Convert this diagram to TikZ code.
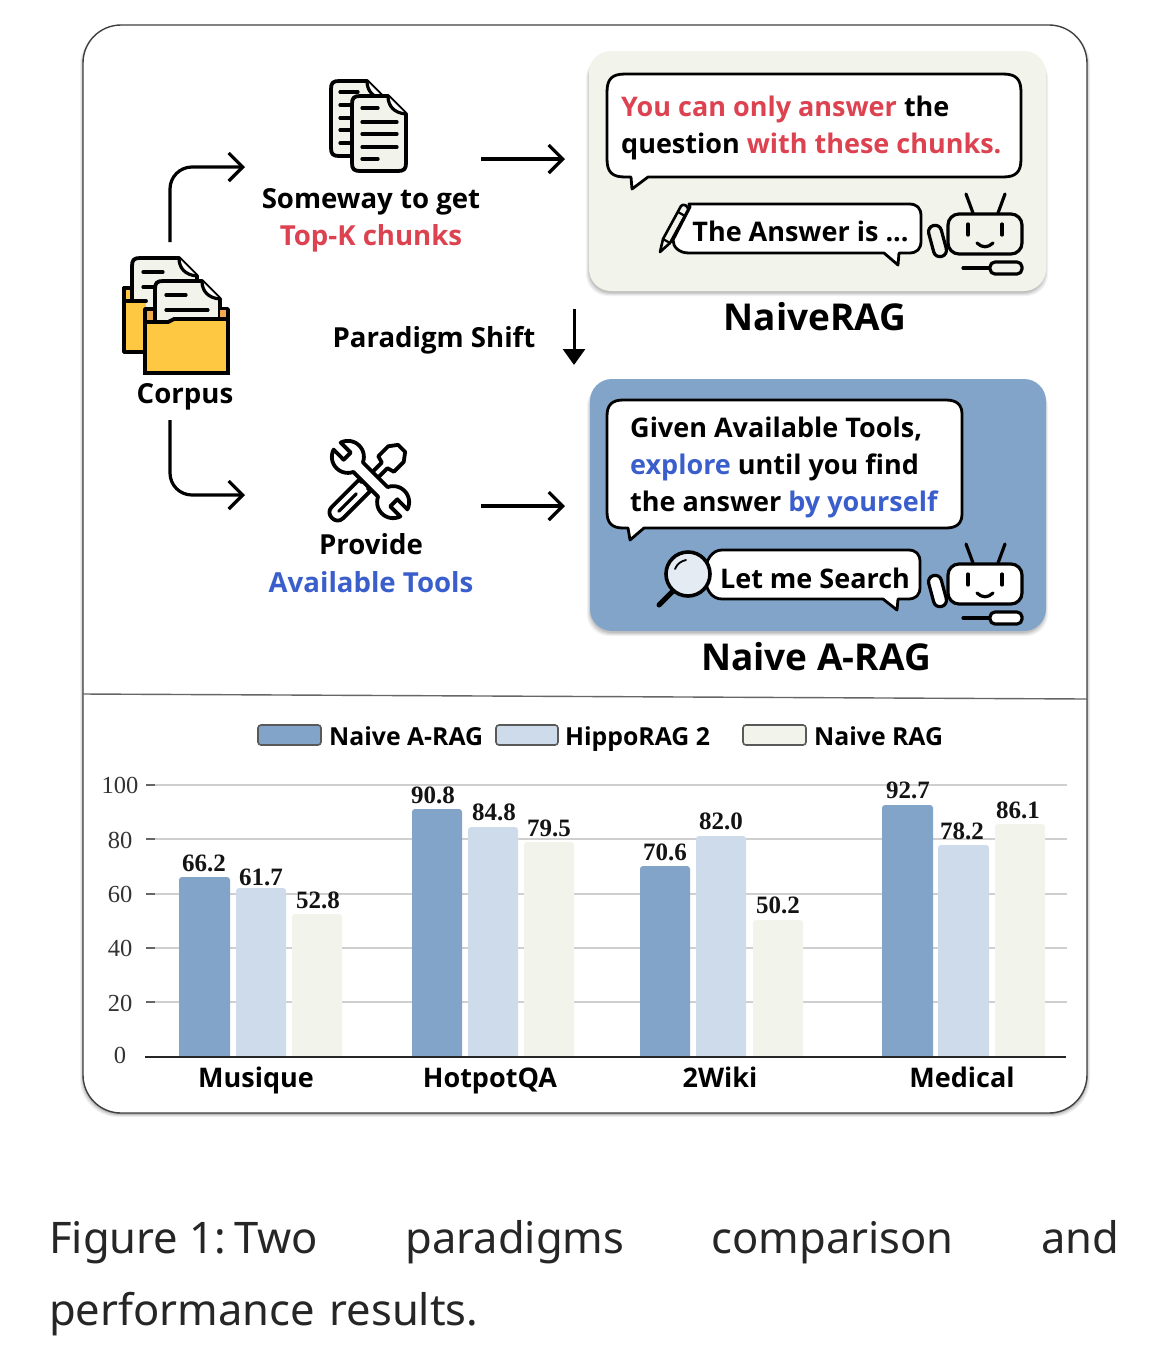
\documentclass[tikz,border=0pt]{standalone}
\usepackage{fontspec}
\setmainfont{Open Sans}
\newfontfamily\capfont{Noto Sans}
\newfontfamily\serifnum{Liberation Serif}
\usetikzlibrary{arrows.meta}
\definecolor{beigeC}{HTML}{F2F3EA}
\definecolor{blueC}{HTML}{82A4C8}
\definecolor{paleC}{HTML}{CDDBEA}
\definecolor{redC}{HTML}{DC4250}
\definecolor{bluetxt}{HTML}{3A5FCC}
\definecolor{gridC}{HTML}{CFCFD2}
\definecolor{folderC}{HTML}{FFC842}
\definecolor{tabC}{HTML}{F2A94E}
\newcommand{\fs}[2]{\fontsize{#1}{#2}\selectfont}
\tikzset{
  x=1pt,y=-1pt,
  lab/.style={font=\bfseries\fs{27}{37},text=black,inner sep=0pt},
  sidelab/.style={font=\bfseries\fs{27.6}{37},text=black,inner sep=0pt},
  big/.style={font=\bfseries\fs{37}{42},text=black,inner sep=0pt},
  leg/.style={font=\bfseries\fs{24.8}{30},text=black,inner sep=0pt,anchor=base west},
  bub/.style={draw=black,line width=2.8pt,fill=white,line join=round},
  icon/.style={draw=black,line width=3.8pt,line join=round,line cap=round},
  thin icon/.style={draw=black,line width=3.2pt,line join=round,line cap=round},
  conn/.style={draw=black,line width=3.2pt,-{Straight Barb[length=14pt,width=28pt,line width=3.2pt]}},
  val/.style={font=\serifnum\bfseries\fs{25}{25},text=black!92,inner sep=0pt},
  tick/.style={font=\serifnum\fs{24.5}{24},text=black!80,inner sep=0pt},
  legbox/.style={draw=black!65,line width=1.6pt,rounded corners=3pt},
}
\newcommand{\robot}[1]{%
  \draw[thin icon] (966,194) -- (973,213);
  \draw[thin icon] (1005,194) -- (998,213);
  \draw[thin icon,fill=#1,rounded corners=11pt] (948,214) rectangle (1022,254);
  \draw[thin icon] (968,224) -- (968,235);
  \draw[thin icon] (1002,224) -- (1002,235);
  \draw[thin icon] (977,243) .. controls (982,248) and (988,248) .. (993,243);
  \draw[thin icon,fill=#1,rounded corners=6.4pt,rotate around={15:(937.5,241)}] (931,225) rectangle (944,257);
  \draw[thin icon] (963,268) -- (990,268);
  \draw[thin icon,fill=#1,rounded corners=5pt] (990,262) rectangle (1022,274);
}
\newcommand{\paper}[5]{%
  \draw[icon,fill=#5] (#1+8,#2) -- (#3-18,#2) -- (#3,#2+18) -- (#3,#4-8)
    .. controls (#3,#4-2) and (#3-2,#4) .. (#3-8,#4) -- (#1+8,#4)
    .. controls (#1+2,#4) and (#1,#4-2) .. (#1,#4-8) -- (#1,#2+8)
    .. controls (#1,#2+2) and (#1+2,#2) .. (#1+8,#2) -- cycle;
  \draw[thin icon,fill=white] (#3-18,#2) .. controls (#3-18,#2+10) and (#3-12,#2+17) .. (#3,#2+18);
}
\begin{document}
\begin{tikzpicture}
\useasboundingbox (0,0) rectangle (1170,1369);
\fill[white] (0,0) rectangle (1170,1369);

% frame
\foreach \d/\o in {4/0.06,3/0.08,2/0.12,1/0.16}
  \fill[black,opacity=\o,rounded corners=38pt] (84-\d,27) rectangle (1086+\d,1113+\d);
\draw[draw=black!75,line width=1.4pt,fill=white,rounded corners=38pt] (83,25) rectangle (1087,1113);
\draw[draw=black!60,line width=1.4pt] (83,694) -- (1087,699);

% panels
\foreach \d/\o in {4/0.05,3/0.06,2/0.07,1/0.08}{
  \fill[black,opacity=\o,rounded corners=22pt] (590-\d,56) rectangle (1044+\d,292+\d);
  \fill[black,opacity=\o,rounded corners=22pt] (591-\d,384) rectangle (1044+\d,632+\d);
}
\node[draw=none,fill=beigeC,rounded corners=22pt,minimum width=457pt,minimum height=240pt,inner sep=0pt] (panelA) at (817.5,171) {};
\node[draw=none,fill=blueC,rounded corners=22pt,minimum width=456pt,minimum height=252pt,inner sep=0pt] (panelB) at (818,505) {};

% bubbles, NaiveRAG
\draw[bub,rounded corners=0pt] (607+18,74)
  -- (1021-18,74) .. controls (1016,74) and (1021,79) .. (1021,92)
  -- (1021,159) .. controls (1021,172) and (1016,177) .. (1003,177)
  -- (648,177) -- (632,189) -- (631,177) -- (625,177)
  .. controls (612,177) and (607,172) .. (607,159)
  -- (607,92) .. controls (607,79) and (612,74) .. (625,74) -- cycle;
\node[lab,anchor=west,align=left] (q1) at (621,127.5) {\textcolor{redC}{You can only answer} the\\question \textcolor{redC}{with these chunks.}};
\draw[bub] (689,204) -- (909,204) .. controls (917,204) and (921,208) .. (921,216)
  -- (921,241) .. controls (921,249) and (917,253) .. (909,253)
  -- (899,253) -- (898,265) -- (884,253) -- (689,253)
  .. controls (679,253) and (673,247) .. (673,240) -- (690,207) -- cycle;
\node[lab,anchor=center] (a1) at (800.5,231) {The Answer is ...};
% pencil
\draw[draw=black,line width=2.6pt,line join=round,fill=beigeC] (660,252) -- (663,239) -- (681,206) .. controls (683,203) and (689,206) .. (688,210) -- (670,243) -- cycle;
\draw[draw=black,line width=2.2pt] (663,239) -- (670,243);
\draw[draw=black,line width=2.2pt] (678,212) -- (685,216);
\robot{beigeC}

% bubbles, A-RAG
\draw[bub] (623,400) -- (946,400) .. controls (957,400) and (962,405) .. (962,414)
  -- (962,514) .. controls (962,523) and (957,528) .. (946,528)
  -- (644,528) -- (630,540) -- (628,528) -- (623,528)
  .. controls (612,528) and (607,523) .. (607,512)
  -- (607,416) .. controls (607,405) and (612,400) .. (623,400) -- cycle;
\node[lab,anchor=west,align=left] (q2) at (630,467.5) {Given Available Tools,\\\textcolor{bluetxt}{explore} until you find\\the answer \textcolor{bluetxt}{by yourself}};
\draw[bub] (722,550) -- (908,550) .. controls (916,550) and (920,554) .. (920,562)
  -- (920,587) .. controls (920,595) and (916,599) .. (908,599)
  -- (898,599) -- (897,610) -- (883,599) -- (722,599)
  .. controls (712,599) and (705,590) .. (705,575) .. controls (705,560) and (712,550) .. (722,550) -- cycle;
\node[lab,anchor=center] (a2) at (815,578) {Let me Search};
% magnifier
\draw[draw=black,line width=5pt,line cap=round] (674,590) -- (659,605);
\draw[draw=black,line width=3.6pt,fill=paleC!55!white] (688,574) circle[radius=22];
\draw[draw=black,line width=1.8pt,line cap=round] (675,569) .. controls (677,564) and (681,561) .. (686,560);
\begin{scope}[yshift=-350pt]
\robot{white}
\end{scope}

% panel captions
\node[big] (capA) at (815,317) {NaiveRAG};
\node[big] (capB) at (816,657) {Naive A-RAG};

% documents icon
\node[inner sep=0pt,minimum width=78pt,minimum height=93pt] (docs) at (368,126) {};
\paper{331}{81}{385}{156}{beigeC}
\foreach \yy in {92,105,118,130,143}
  \draw[thin icon] (340,\yy) -- (358,\yy);
\paper{352}{96}{406}{171}{beigeC}
\draw[thin icon] (362,108) -- (378,108);
\foreach \yy in {122,134,147}
  \draw[thin icon] (362,\yy) -- (397,\yy);
\draw[thin icon] (362,159) -- (378,159);
\node[sidelab] (t1) at (371,202) {Someway to get};
\node[sidelab,text=redC] (t2) at (371,238.5) {Top-K chunks};

% corpus icon
\node[inner sep=0pt,minimum width=108pt,minimum height=118pt] (corpusicon) at (175,316) {};
\fill[tabC] (123,288) rectangle (140,310);
\draw[icon,fill=folderC,line cap=butt] (124,288) rectangle (146,352);
\paper{132}{258}{197}{320}{beigeC}
\draw[thin icon] (143,272) -- (163,272);
\draw[thin icon] (143,287) -- (157,287);
\fill[folderC] (126,302) -- (146,302) -- (146,351) -- (126,351) -- cycle;
\draw[icon] (124,301) -- (146,301);
\draw[icon] (124,288) -- (124,352) -- (146,352);
\fill[tabC] (147,310) rectangle (160,330);
\draw[icon,fill=none,line cap=butt] (145,309) rectangle (228,373);
\paper{155}{281}{220}{350}{beigeC}
\draw[thin icon] (166,295) -- (186,295);
\draw[thin icon] (166,310) -- (208,310);
\fill[tabC] (220,310) rectangle (227,318);
\draw[icon,fill=folderC,line join=miter] (145,373) -- (145,322) -- (168,322) -- (174,319) -- (228,319) -- (228,373) -- cycle;
\draw[icon,line cap=butt] (145,309) -- (145,322);
\draw[icon,line cap=butt] (228,309) -- (228,319);
\node[sidelab] (corpus) at (185,397) {Corpus};

% tools icon
\node[inner sep=0pt,minimum width=78pt,minimum height=78pt] (tools) at (370,480) {};
\begin{scope}[shift={(370.5,479.5)},rotate=45]
  \draw[icon,fill=white] (-47,-8) -- (-8,-8) -- (-8,-4) -- (20,-4) -- (22,-11) -- (36,-11) -- (44,-5) -- (44,5) -- (36,11) -- (22,11) -- (20,4) -- (-8,4) -- (-8,8) -- (-47,8)
     .. controls (-57,8) and (-57,-8) .. (-47,-8) -- cycle;
  \draw[thin icon] (-45,0) -- (-20,0);
\end{scope}
\begin{scope}[shift={(370.5,479.5)},rotate=-45]
  \draw[icon,fill=white]
    plot[domain=-155:-18,samples=24] ({32+16*cos(\x)},{16*sin(\x)})
    -- (33,-5) -- (33,5) -- (47,5)
    -- plot[domain=18:155,samples=24] ({32+16*cos(\x)},{16*sin(\x)})
    -- plot[domain=25:162,samples=24] ({-32+16*cos(\x)},{16*sin(\x)})
    -- (-33,5) -- (-33,-5) -- (-47,-5)
    -- plot[domain=198:335,samples=24] ({-32+16*cos(\x)},{16*sin(\x)})
    -- cycle;
\end{scope}
\node[sidelab] (t3) at (371,544.5) {Provide};
\node[sidelab,text=bluetxt] (t4) at (371,582) {Available Tools};

% connectors
\coordinate (upstart) at (170,242);
\coordinate (upend) at (245,167);
\coordinate (downstart) at (170,420);
\coordinate (downend) at (245,495);
\coordinate (r1a) at (481,159);
\coordinate (r1b) at (565,159);
\coordinate (r2a) at (481,506);
\coordinate (r2b) at (565,506);
\coordinate (shifta) at (574,309);
\coordinate (shiftb) at (574,365);
\draw[conn,rounded corners=22pt] (upstart) |- (upend);
\draw[conn,rounded corners=22pt] (downstart) |- (downend);
\draw[conn] (r1a) -- (r1b);
\draw[conn] (r2a) -- (r2b);
\draw[draw=black,line width=3pt,-{Triangle[length=16pt,width=22pt]}] (shifta) -- (shiftb);
\node[sidelab] (shift) at (434,340) {Paradigm Shift};

% legend
\node[legbox,fill=blueC,minimum width=63pt,minimum height=20pt,inner sep=0pt] (lk1) at (289.5,735) {};
\node[legbox,fill=paleC,minimum width=62pt,minimum height=20pt,inner sep=0pt] (lk2) at (527,735) {};
\node[legbox,fill=beigeC,minimum width=63pt,minimum height=20pt,inner sep=0pt] (lk3) at (774.5,735) {};
\node[leg] (lt1) at (329,745) {Naive A-RAG};
\node[leg] (lt2) at (565,745) {HippoRAG 2};
\node[leg] (lt3) at (814,745) {Naive RAG};

% chart grid
\foreach \yy/\tv/\ty in {785/100/785,839/80/840,894/60/894,948/40/948,1002/20/1003}{
  \draw[draw=gridC,line width=1.5pt] (155,\yy) -- (1067,\yy);
  \draw[draw=black!60,line width=1.4pt] (146,\yy) -- (155,\yy);
  \node[tick] (tk\tv) at (120,\ty) {\tv};
}
\node[tick] (tk0) at (120,1055) {0};

% bars
\foreach \xa/\xb/\yt/\col in {
  179/230/877/blueC,236/286/888/paleC,292/342/914/beigeC,
  412/462/809/blueC,468/518/827/paleC,524/574/842/beigeC,
  640/690/866/blueC,696/746/836/paleC,753/803/920/beigeC,
  882/933/805/blueC,938/989/845/paleC,995/1045/824/beigeC}{
  \fill[\col,rounded corners=3pt] (\xa,1060) -- (\xa,\yt) -- (\xb,\yt) -- (\xb,1060) -- cycle;
}
\fill[white] (140,1058) rectangle (1070,1062);
\draw[draw=black!85,line width=1.6pt] (145,1057) -- (1066,1057);

% values
\foreach \xx/\yy/\tv [count=\i] in {
  204/863/66.2,261/877/61.7,318/900/52.8,
  433/795/90.8,494/812/84.8,549/828/79.5,
  665/852/70.6,721/821/82.0,778/905/50.2,
  908/790/92.7,962/831/78.2,1018/810/86.1}{
  \node[val] (v\i) at (\xx,\yy) {\tv};
}

% categories
\node[lab,anchor=base] (c1) at (256,1087) {Musique};
\node[lab,anchor=base] (c2) at (490,1087) {HotpotQA};
\node[lab,anchor=base] (c3) at (720,1087) {2Wiki};
\node[lab,anchor=base] (c4) at (962,1087) {Medical};

% caption
\node[anchor=north west,inner sep=0pt,text width=1070pt,align=left,font=\capfont\fs{43.5}{72},text=black!85] (caption) at (49,1220)
  {Figure\hspace{0.25em}1:\hspace{0.2em}Two\hfill paradigms\hfill comparison\hfill and\\performance results.};
\end{tikzpicture}
\end{document}
